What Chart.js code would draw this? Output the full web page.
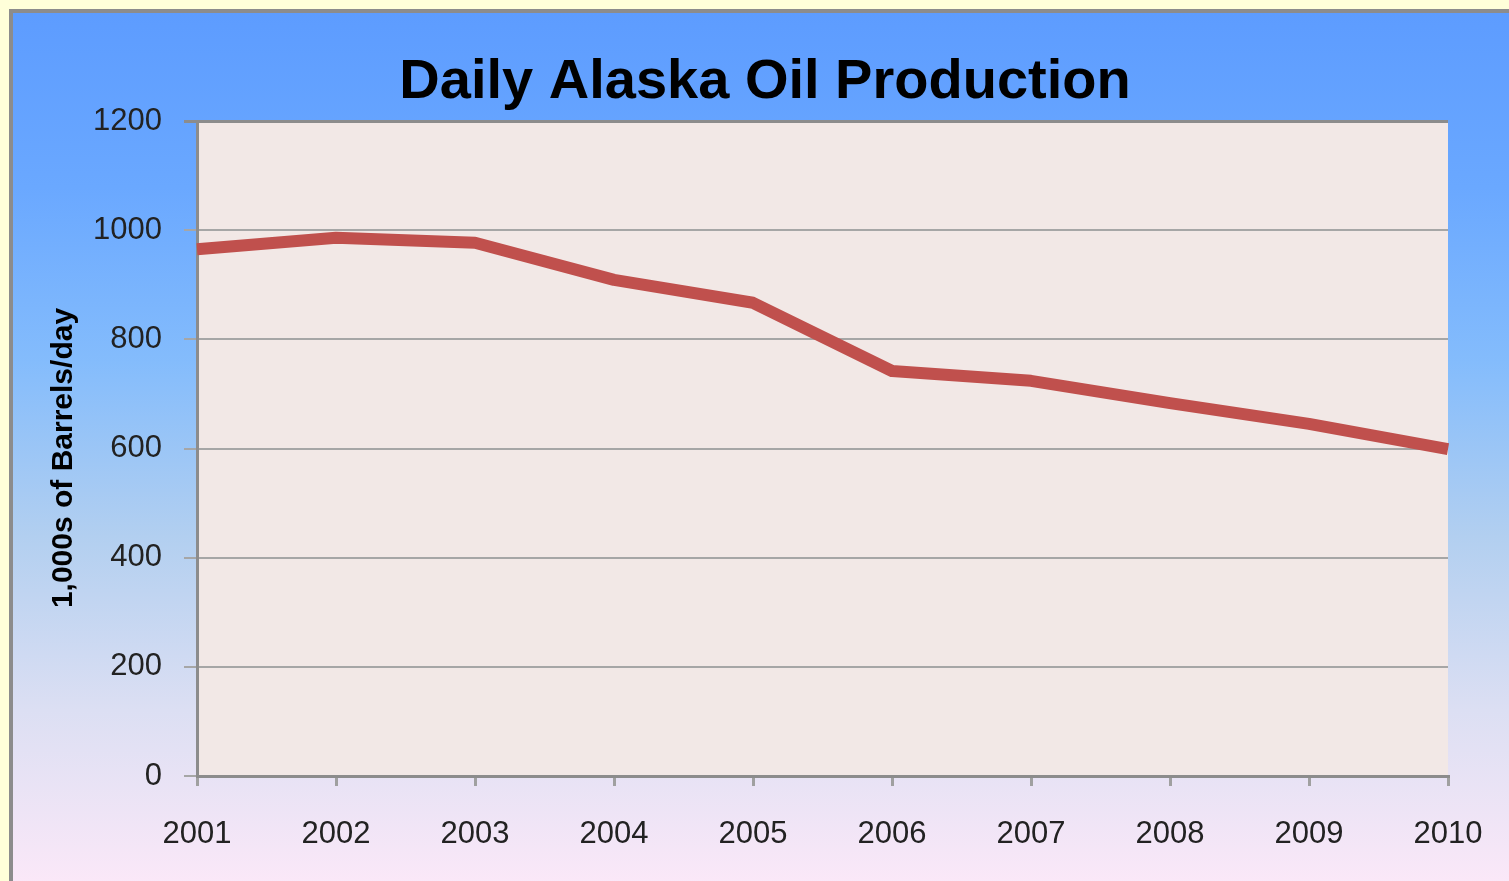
<!DOCTYPE html>
<html>
<head>
<meta charset="utf-8">
<script src="https://cdn.jsdelivr.net/npm/chart.js@4"></script>
<style>
  html, body { margin: 0; padding: 0; background: #ffffd9; overflow: hidden; }
  #frame {
    position: absolute; left: 9px; top: 9px; width: 1500px; height: 872px;
    border-left: 4px solid #8c8c8c; border-top: 4px solid #8c8c8c;
    background: linear-gradient(to bottom, #5d9cff 0%, #6aa8ff 20%, #84bcfc 40%, #b2cff0 60%, #dcdff3 80%, #fbe8f8 100%);
  }
  #wrap { position: absolute; left: 0; top: 0; width: 1509px; height: 881px; }
</style>
</head>
<body>
<div id="frame"></div>
<div id="wrap"><canvas id="chart" width="1509" height="881"></canvas></div>
<script>
const chartTitle = "Daily Alaska Oil Production";
const yTitle = "1,000s of Barrels/day";
const years = ["2001", "2002", "2003", "2004", "2005", "2006", "2007", "2008", "2009", "2010"];
const production = [965, 986, 977, 909, 867, 742, 724, 683, 645, 599];
const yTicks = [0, 200, 400, 600, 800, 1000, 1200];

// plot background + titles drawn where the original has them
const decor = {
  id: "decor",
  beforeDraw(chart) {
    const { ctx, chartArea: a } = chart;
    ctx.save();
    ctx.fillStyle = "#f2e8e6";
    ctx.fillRect(a.left, a.top, a.right - a.left, a.bottom - a.top);
    ctx.restore();
  },
  afterDraw(chart) {
    const ctx = chart.ctx;
    ctx.save();
    ctx.fillStyle = "#000";
    ctx.textAlign = "center";
    ctx.textBaseline = "alphabetic";
    ctx.font = "bold 56px 'Liberation Sans'";
    ctx.fillText(chartTitle, 765, 98);
    ctx.translate(72, 458);
    ctx.rotate(-Math.PI / 2);
    ctx.font = "bold 30px 'Liberation Sans'";
    ctx.fillText(yTitle, 0, 0);
    ctx.restore();
  }
};

new Chart(document.getElementById("chart"), {
  type: "line",
  data: {
    labels: years,
    datasets: [{
      data: production,
      borderColor: "#c0504d",
      borderWidth: 12,
      pointRadius: 0,
      tension: 0,
      borderJoinStyle: "round"
    }]
  },
  options: {
    responsive: false,
    animation: false,
    layout: { padding: { left: 0, right: 0, top: 121, bottom: 0 } },
    plugins: {
      legend: { display: false },
      tooltip: { enabled: false },
      title: { display: false }
    },
    scales: {
      x: {
        offset: false,
        border: { color: "#8c8c8c", width: 3 },
        grid: { drawOnChartArea: false, drawTicks: true, tickLength: 10, color: "#a0a0a0", lineWidth: 3 },
        ticks: { color: "#222", padding: 30, maxRotation: 0, font: { family: "Liberation Sans", size: 31 } },
        afterFit(scale) {
          scale.height = 105;
          scale.paddingLeft = 0;
          scale.paddingRight = 61;
        }
      },
      y: {
        min: 0,
        max: 1200,
        afterBuildTicks(scale) { scale.ticks = yTicks.map(v => ({ value: v })); },
        border: { color: "#8c8c8c", width: 3 },
        grid: {
          tickLength: 13,
          color: ctx => ctx.tick && ctx.tick.value === 1200 ? "#8c8c8c" : "#a6a6a6",
          lineWidth: ctx => ctx.tick && ctx.tick.value === 1200 ? 3 : 2
        },
        ticks: {
          color: "#222",
          padding: 22,
          font: { family: "Liberation Sans", size: 31 },
          callback: v => String(v)
        },
        afterFit(scale) { scale.width = 197; }
      }
    }
  },
  plugins: [decor]
});
</script>
</body>
</html>
